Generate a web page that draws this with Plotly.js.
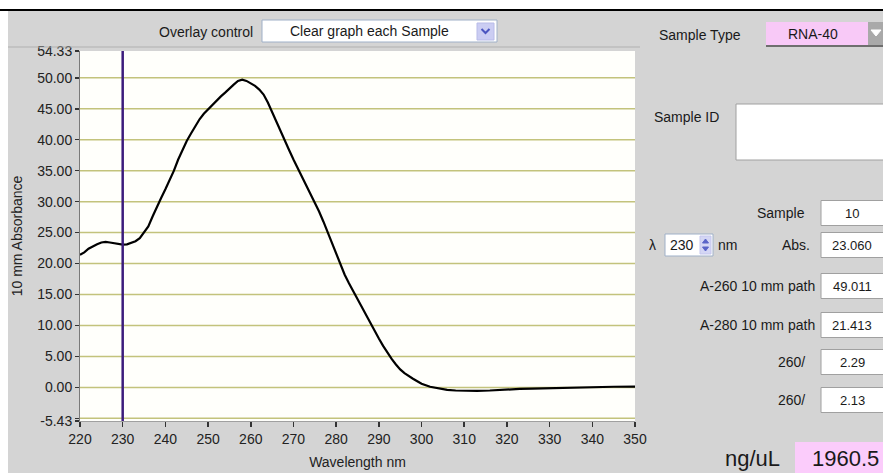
<!DOCTYPE html>
<html>
<head>
<meta charset="utf-8">
<script src="https://cdn.plot.ly/plotly-3.0.1.min.js"></script>
<style>html,body{margin:0;padding:0;background:#d4d4d4;}#chart{width:883px;height:473px;}</style>
</head>
<body>
<div id="chart"></div>
<script>
// ---- data ----
const wavelength = [220,221,222,223,224,225,226,227,228,229,230,231,232,233,234,235,236,237,238,239,240,241,242,243,244,245,246,247,248,249,250,251,252,253,254,255,256,257,258,259,260,261,262,263,264,265,266,267,268,269,270,271,272,273,274,275,276,277,278,279,280,281,282,283,284,285,286,287,288,289,290,291,292,293,294,295,296,297,298,299,300,302,304,306,308,310,313,316,318,320,323,326,329,330,335,339,340,345,350];
const absorbance = [21.4,21.8,22.4,22.8,23.1,23.4,23.5,23.4,23.3,23.2,23.06,23.1,23.3,23.6,24.1,25.0,26.0,27.6,29.2,30.6,32.0,33.4,35.0,36.8,38.4,39.8,41.0,42.2,43.3,44.2,44.9,45.6,46.4,47.0,47.6,48.3,48.9,49.5,49.7,49.5,49.1,48.7,48.1,47.3,46.0,44.4,43.0,41.5,39.9,38.3,36.8,35.4,34.0,32.6,31.3,29.9,28.4,26.8,25.1,23.3,21.5,19.8,18.2,16.8,15.5,14.2,12.9,11.6,10.3,9.1,7.9,6.7,5.6,4.6,3.7,2.9,2.3,1.8,1.4,1.0,0.6,0.1,-0.2,-0.4,-0.5,-0.55,-0.55,-0.5,-0.4,-0.3,-0.25,-0.2,-0.15,-0.1,-0.05,0.0,0.08,0.1,0.12];
const cursorNm = 230;
const yTickVals = [-5.43,-5,0,5,10,15,20,25,30,35,40,45,50,54.33];
const yTickText = ["-5.43","","0.00","5.00","10.00","15.00","20.00","25.00","30.00","35.00","40.00","45.00","50.00","54.33"];
const gridVals = [-5,0,5,10,15,20,25,30,35,40,45,50];
const xTickVals = [220,230,240,250,260,270,280,290,300,310,320,330,340,350];
const overlayOption = "Clear graph each Sample";
const sampleType = "RNA-40";
const sampleNo = "10";
const lambdaNm = "230";
const absValue = "23.060";
const a260 = "49.011";
const a280 = "21.413";
const ratio260_280 = "2.29";
const ratio260_230 = "2.13";
const concentration = "1960.5";

// ---- layout helpers (pixel -> paper) ----
const W = 883, H = 473, ML = 80, MR = 248, MT = 51, MB = 52;
const PW = W - ML - MR, PH = H - MT - MB;
const px = x => (x - ML) / PW;
const py = y => (H - MB - y) / PH;
const FONT = "Liberation Sans, Arial, sans-serif";
const shapes = [];
const annotations = [];
function rect(x0, y0, x1, y1, fill, line, lw) {
  shapes.push({type:'rect', xref:'paper', yref:'paper', x0:px(x0), x1:px(x1), y0:py(y1), y1:py(y0),
    fillcolor:fill, line:{color:line||fill, width: lw===undefined?1:lw}, layer:'above'});
}
function hline(x0, x1, y, color, w) {
  shapes.push({type:'line', xref:'paper', yref:'paper', x0:px(x0), x1:px(x1), y0:py(y), y1:py(y), line:{color:color, width:w||1}, layer:'above'});
}
function path(pts, fill, line) {
  const d = pts.map((p,i)=>(i?'L':'M')+px(p[0])+','+py(p[1])).join(' ')+' Z';
  shapes.push({type:'path', xref:'paper', yref:'paper', path:d, fillcolor:fill, line:{color:line||fill, width:1}, layer:'above'});
}
function chevron(cx, cy, color) {
  const d = 'M'+px(cx-4)+','+py(cy-2)+' L'+px(cx)+','+py(cy+2)+' L'+px(cx+4)+','+py(cy-2);
  shapes.push({type:'path', xref:'paper', yref:'paper', path:d, line:{color:color, width:2}, layer:'above'});
}
function text(t, x, y, size, anchor, color) {
  annotations.push({text:t, xref:'paper', yref:'paper', x:px(x), y:py(y), xanchor:anchor||'center', yanchor:'middle',
    showarrow:false, font:{family:FONT, size:size||14, color:color||'#1a1a1a'}});
}

// frame of the window
rect(0, 0, W, 9, '#ffffff', '#ffffff', 0);
rect(0, 9, W, 11, '#000000', '#000000', 0);
rect(0, 11, 8, H, '#ffffff', '#ffffff', 0);
hline(8, 640, 47, '#b0b0b0', 1);

// overlay control
text('Overlay control', 255, 32, 14, 'right');
rect(262, 20, 497, 42, '#ffffff', '#9fb0c8', 1);
text(overlayOption, 369, 31, 14, 'center');
rect(477, 23, 494, 40, '#cbcdf3', '#b8bbe8', 1);
chevron(485.5, 31, '#4b55c0');

// sample type
text('Sample Type', 657, 35, 14, 'left');
rect(766, 22, 868, 45, '#f8c9f7', '#f8c9f7', 0);
text(sampleType, 813, 34, 14, 'center');
rect(868, 22, 883, 45, '#a9a9a9', '#a9a9a9', 0);
path([[871,30],[881,30],[876,36]], '#ffffff');
hline(766, 883, 46, '#6e6e6e', 2);

// sample id
text('Sample ID', 652, 117, 14, 'left');
rect(736, 104, 890, 160, '#ffffff', '#a0a0a0', 1);

// value rows
function valueRow(label, value, cy, labelRight) {
  if (label) text(label, labelRight||815, cy, 14, 'right');
  rect(821, cy-12.5, 890, cy+12.5, '#ffffff', '#a0a0a0', 1);
  text(value, 852, cy, 13, 'center');
}
valueRow('Sample', sampleNo, 213, 807);
valueRow('Abs.', absValue, 245, 812);
valueRow('A-260 10 mm path', a260, 286, 817);
valueRow('A-280 10 mm path', a280, 325, 817);
valueRow('260/', ratio260_280, 362, 807);
valueRow('260/', ratio260_230, 400, 807);

// lambda spinner
text('λ', 652, 245, 14, 'center');
rect(665, 234, 713, 256, '#ffffff', '#9fb0c8', 1);
text(lambdaNm, 682, 245, 14, 'center');
rect(700, 236, 711, 254, '#d4d6f4', '#c4c6ee', 1);
path([[702.5,243],[708.5,243],[705.5,239]], '#5a64c8');
path([[702.5,247],[708.5,247],[705.5,251]], '#5a64c8');
text('nm', 727, 245, 14, 'center');

// concentration
text('ng/uL', 752, 458, 22, 'center');
rect(795, 442, 890, 473, '#fbccfb', '#fbccfb', 0);
text(concentration, 845, 458, 22, 'center');

// gridlines (data-referenced)
gridVals.forEach(v => shapes.push({type:'line', xref:'paper', yref:'y', x0:0, x1:1, y0:v, y1:v,
  line:{color:'#c3c37c', width:1.5}, layer:'below'}));
// cursor line
shapes.push({type:'line', xref:'x', yref:'paper', x0:cursorNm, x1:cursorNm, y0:0, y1:1,
  line:{color:'#3c1c7c', width:2.5}, layer:'above'});

const trace = {x: wavelength, y: absorbance, type:'scatter', mode:'lines',
  line:{color:'#000000', width:2.2}, hoverinfo:'skip'};

const layout = {
  width: W, height: H,
  margin:{l:ML, r:MR, t:MT, b:MB, pad:0},
  paper_bgcolor:'#d4d4d4', plot_bgcolor:'#fffffb',
  showlegend:false,
  font:{family:FONT, size:14, color:'#222'},
  xaxis:{range:[220,350], tickvals:xTickVals, ticktext:xTickVals.map(String), ticks:'outside', ticklen:5, tickwidth:1.5,
    tickcolor:'#333', showgrid:false, zeroline:false, showline:true, linecolor:'#a0a0a0', linewidth:1,
    tickfont:{family:FONT, size:14, color:'#222'},
    title:{text:'Wavelength nm', font:{family:FONT, size:14, color:'#222'}, standoff:11}},
  yaxis:{range:[-5.43,54.33], tickvals:yTickVals, ticktext:yTickText, ticks:'outside', ticklen:4, tickwidth:1.5,
    tickcolor:'#333', showgrid:false, zeroline:false, showline:true, linecolor:'#7a7a7a', linewidth:1,
    tickfont:{family:FONT, size:14, color:'#222'},
    title:{text:'10 mm Absorbance', font:{family:FONT, size:14, color:'#222'}, standoff:11}},
  shapes: shapes,
  annotations: annotations
};
Plotly.newPlot('chart', [trace], layout, {displayModeBar:false, staticPlot:true});
</script>
</body>
</html>
